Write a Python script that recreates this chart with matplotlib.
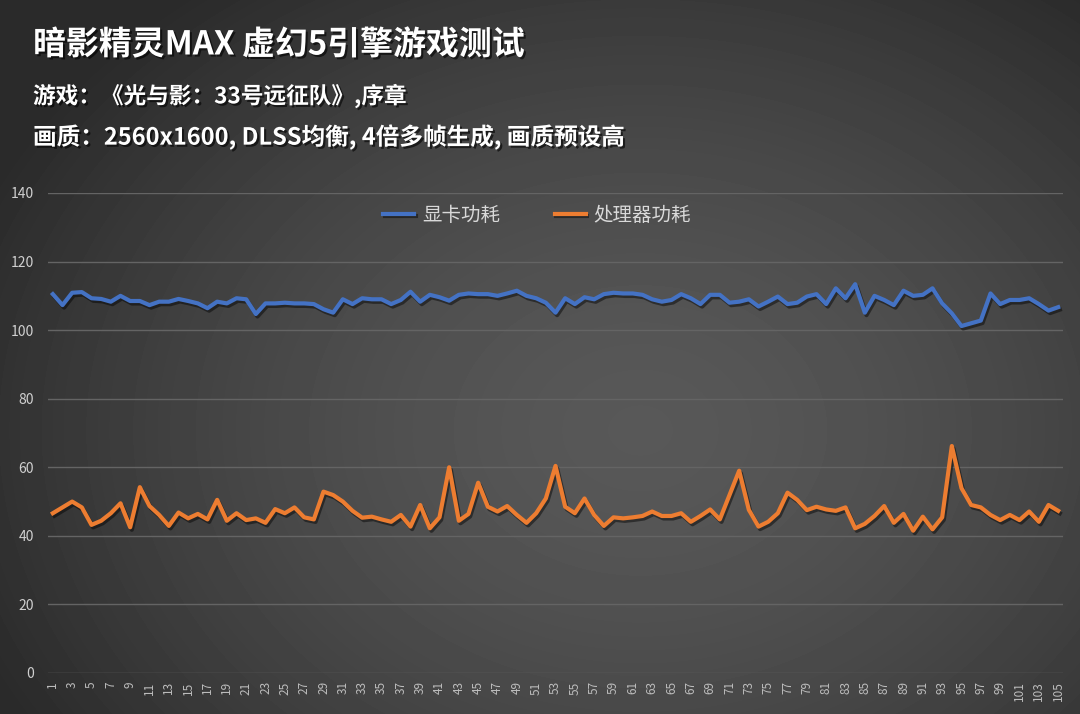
import numpy as np
import matplotlib
matplotlib.use("Agg")
import matplotlib.pyplot as plt
import matplotlib.patheffects as pe

plt.rcParams['font.family'] = ['Noto Sans CJK SC', 'DejaVu Sans']

# ---- data ----
title = "暗影精灵MAX 虚幻5引擎游戏测试"
subtitle1 = "游戏：《光与影：33号远征队》,序章"
subtitle2 = "画质：2560x1600, DLSS均衡, 4倍多帧生成, 画质预设高"

series_names = ["显卡功耗", "处理器功耗"]

gpu_power = [110.5, 107.3, 110.9, 111.1, 109.3, 109.1, 108.3, 110.0, 108.5, 108.5,
             107.3, 108.3, 108.3, 109.1, 108.5, 107.8, 106.4, 108.3, 107.8, 109.3,
             109.0, 104.7, 107.8, 107.8, 108.0, 107.8, 107.8, 107.6, 106.1, 105.1,
             109.0, 107.6, 109.3, 109.0, 109.0, 107.6, 108.8, 111.2, 108.3, 110.3,
             109.6, 108.6, 110.3, 110.7, 110.5, 110.5, 110.0, 110.7, 111.5, 110.0,
             109.3, 108.0, 105.1, 109.3, 107.6, 109.6, 109.0, 110.5, 110.9, 110.7,
             110.7, 110.3, 109.0, 108.3, 108.8, 110.5, 109.3, 107.6, 110.3, 110.3,
             108.0, 108.3, 109.0, 106.9, 108.3, 109.8, 107.6, 108.0, 109.8, 110.5,
             107.6, 112.2, 109.3, 113.4, 105.1, 110.0, 108.8, 107.3, 111.5, 110.0,
             110.3, 112.2, 107.8, 104.9, 101.2, 102.0, 102.8, 110.7, 107.6, 108.8,
             108.8, 109.3, 107.6, 105.7, 106.7]

cpu_power = [46.6, 48.3, 50.0, 48.3, 43.2, 44.4, 46.6, 49.5, 42.5, 54.2,
             48.7, 46.1, 42.9, 46.8, 45.1, 46.4, 44.8, 50.5, 44.4, 46.6,
             44.6, 45.1, 43.8, 47.8, 46.6, 48.3, 45.4, 44.8, 52.9, 51.9,
             50.0, 47.3, 45.3, 45.6, 44.8, 44.1, 46.1, 42.7, 49.0, 42.2,
             45.4, 60.0, 44.4, 46.4, 55.5, 48.5, 47.1, 48.7, 46.1, 43.8,
             46.6, 50.9, 60.4, 48.5, 46.6, 50.9, 46.1, 42.9, 45.4, 45.1,
             45.4, 45.8, 47.1, 45.8, 45.8, 46.6, 44.1, 45.8, 47.7, 44.8,
             51.9, 59.0, 47.6, 42.7, 44.1, 46.6, 52.6, 50.5, 47.5, 48.5,
             47.7, 47.3, 48.3, 42.2, 43.5, 45.8, 48.7, 43.8, 46.4, 41.5,
             45.6, 41.9, 45.4, 66.2, 53.9, 49.0, 48.3, 46.1, 44.6, 46.1,
             44.6, 47.1, 44.1, 49.0, 47.3]

x = np.arange(1, len(gpu_power) + 1)
y_ticks = [0, 20, 40, 60, 80, 100, 120, 140]

W, H = 1080, 714
fig = plt.figure(figsize=(W / 100, H / 100), dpi=100)

# background: dark radial gradient
bg = fig.add_axes([0, 0, 1, 1])
gx, gy = np.meshgrid(np.arange(W), np.arange(H))
r = np.sqrt(((gx - 640) / 720.0) ** 2 + ((gy - 430) / 560.0) ** 2)
r = np.clip(r, 0, 1)
shade = 0.345 - (0.345 - 0.165) * r ** 1.6
bg.imshow(shade, cmap='gray', vmin=0, vmax=1, extent=[0, W, H, 0], aspect='auto',
          interpolation='bilinear')
bg.set_xlim(0, W)
bg.set_ylim(H, 0)
bg.axis('off')
bg.set_zorder(0)

# main chart
ax = fig.add_axes([48 / W, (H - 673) / H, 1015 / W, 480 / H])
ax.set_zorder(1)
ax.patch.set_alpha(0)

shadow = [pe.SimpleLineShadow(offset=(1.2, -1.8), shadow_color='black', alpha=0.45),
          pe.Normal()]
ax.plot(x, gpu_power, color='#4472C4', lw=3.0, label=series_names[0],
        solid_joinstyle='round', path_effects=shadow, zorder=3)
ax.plot(x, cpu_power, color='#ED7D31', lw=3.0, label=series_names[1],
        solid_joinstyle='round', path_effects=shadow, zorder=3)

ax.set_xlim(0.5, len(x) + 0.5)
ax.set_ylim(0, 140)
ax.set_yticks(y_ticks)
ax.set_xticks(x[::2])
ax.set_xticklabels([str(v) for v in x[::2]], rotation=90, fontsize=8.5,
                   color='#bdbdbd')
ax.tick_params(axis='y', length=0, pad=10, labelsize=10, labelcolor='#d0d0d0')
ax.tick_params(axis='x', length=0, pad=6)
ax.yaxis.grid(True, color='#646464', lw=1)
ax.set_axisbelow(True)
for s in ax.spines.values():
    s.set_visible(False)

leg = ax.legend(loc='center', bbox_to_anchor=(0.482, 0.954), ncol=2, frameon=False,
                fontsize=14, handlelength=1.6, handletextpad=0.4, columnspacing=2.8)
for t in leg.get_texts():
    t.set_color('#d9d9d9')

# titles
txt_fx = [pe.SimplePatchShadow(offset=(1.5, -1.5), shadow_rgbFace='black', alpha=0.6),
          pe.Normal()]
fig.text(33 / W, 1 - 45 / H, title, fontsize=23.7, fontweight='bold', color='white',
         va='center', ha='left', path_effects=txt_fx)
fig.text(33 / W, 1 - 96 / H, subtitle1, fontsize=16.3, fontweight='bold', color='white',
         va='center', ha='left', path_effects=txt_fx)
fig.text(33 / W, 1 - 137 / H, subtitle2, fontsize=17, fontweight='bold', color='white',
         va='center', ha='left', path_effects=txt_fx)

fig.savefig("out.png", dpi=100)
